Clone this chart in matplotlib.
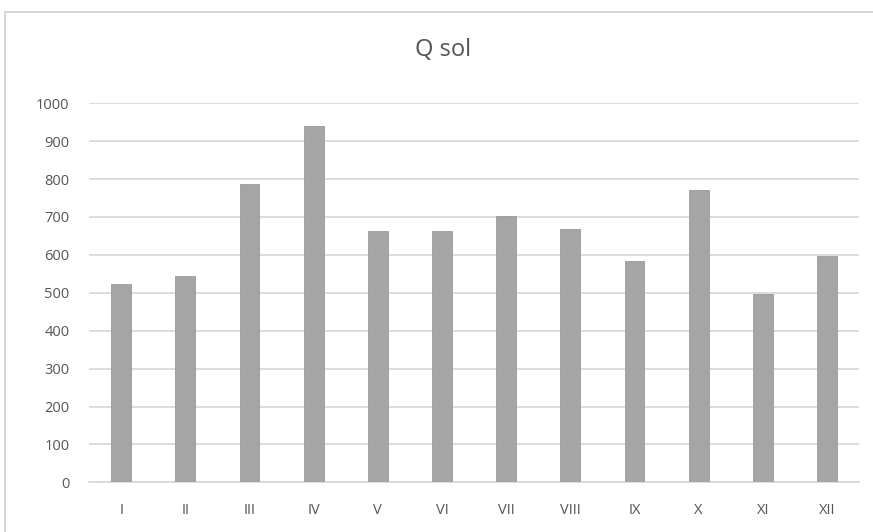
import matplotlib.pyplot as plt
from matplotlib.patches import Rectangle

plt.rcParams['font.family'] = ['Open Sans', 'DejaVu Sans']

# monthly values
months = ['I', 'II', 'III', 'IV', 'V', 'VI', 'VII', 'VIII', 'IX', 'X', 'XI', 'XII']
q_sol = [523, 545, 786, 941, 662, 662, 702, 669, 585, 770, 497, 596]
y_ticks = list(range(0, 1001, 100))

txt_col = '#555555'
grid_col = '#D9D9D9'

fig = plt.figure(figsize=(8.73, 5.32), dpi=100)
ax = fig.add_axes([0.102, 0.0934, 0.882, 0.7125])

# chart outer border
fig.patches.append(Rectangle((5/873, -0.05), 1.0, 1 - 12/532 + 0.05, transform=fig.transFigure,
                             fill=False, edgecolor='#D0D0D0', linewidth=1.2))

x = range(len(months))
ax.bar(x, q_sol, width=0.31, color='#A5A5A5', edgecolor='#9A9A9A', linewidth=0.6, zorder=3)

ax.set_xlim(-0.5, len(months) - 0.5)
ax.set_ylim(0, 1000)
ax.set_yticks(y_ticks)
ax.set_xticks(list(x))
ax.set_xticklabels(months)

ax.grid(axis='y', color=grid_col, linewidth=1.3, zorder=0)
for s in ['top', 'right', 'left']:
    ax.spines[s].set_visible(False)
ax.spines['bottom'].set_color(grid_col)
ax.spines['bottom'].set_linewidth(1.3)

ax.tick_params(axis='both', length=0, labelsize=10.5, labelcolor=txt_col)
ax.tick_params(axis='x', pad=15)
ax.tick_params(axis='y', pad=14)

fig.text(0.508, 1 - 50/532, 'Q sol', ha='center', va='center', fontsize=17, color=txt_col)

fig.savefig('out.png', dpi=100)
